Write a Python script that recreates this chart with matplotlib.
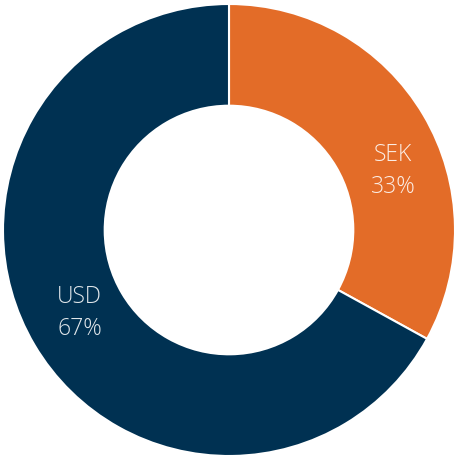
import matplotlib.pyplot as plt

# currency split
currencies = ['SEK', 'USD']
shares = [33, 67]
colors = ['#E36C28', '#003152']

# label spots (fraction of outer radius, angle)
label_xy = [(0.725, 0.26), (-0.66, -0.367)]

plt.rcParams['font.family'] = ['Open Sans', 'DejaVu Sans']

fig = plt.figure(figsize=(4.55, 4.57), dpi=100)
ax = fig.add_axes([0, 0, 1, 1])

ax.pie(shares, colors=colors, startangle=90, counterclock=False,
       radius=1, wedgeprops=dict(width=0.45, edgecolor='white', linewidth=1.5))

for name, val, (x, y) in zip(currencies, shares, label_xy):
    ax.text(x, y, f'{name}\n{val}%', ha='center', va='center', fontsize=16.5,
            fontweight='light', color='white', alpha=0.88, linespacing=1.45)

ax.set_aspect('equal')
ax.set_xlim(-229 / 226, 226 / 226)
ax.set_ylim(-227 / 226, 230 / 226)
ax.axis('off')

fig.savefig('out.png', dpi=100)
